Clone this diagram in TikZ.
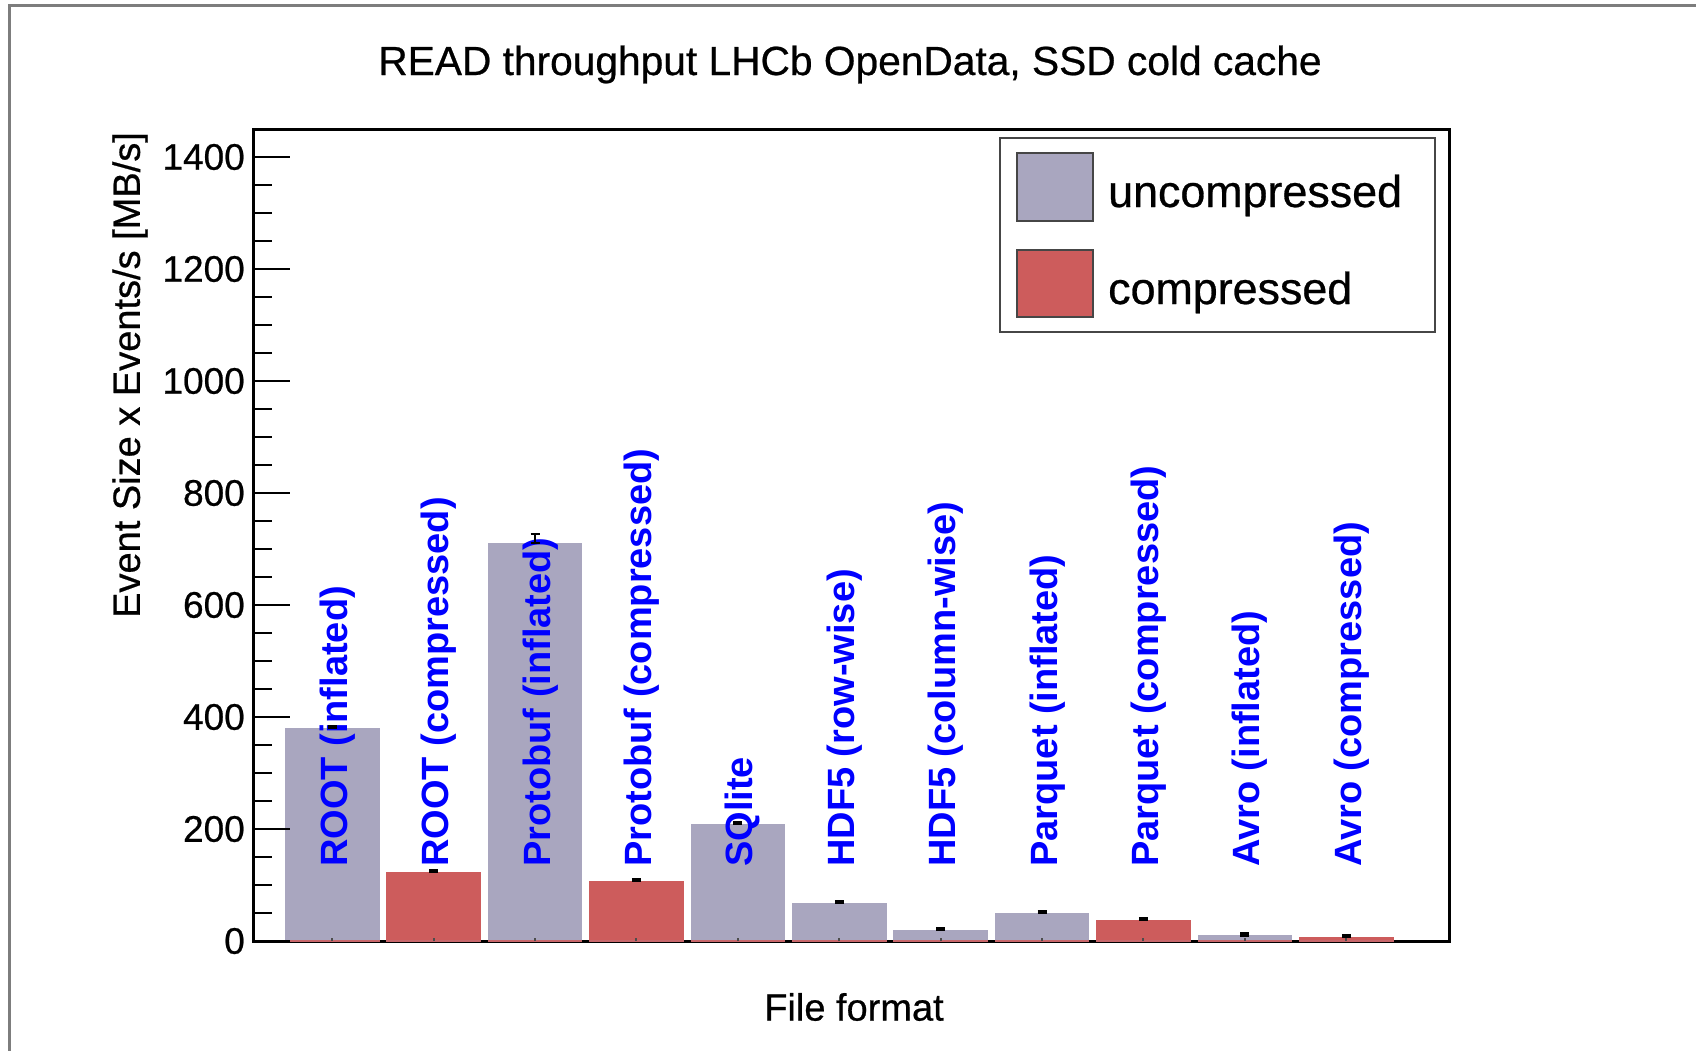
\documentclass[tikz,border=0pt]{standalone}
\usepackage{fontspec}
\setmainfont{Liberation Sans}
\newfontfamily\plotfont[FakeBold=0.6]{Liberation Sans}
\definecolor{uncomp}{RGB}{169,166,191}
\definecolor{comp}{RGB}{205,92,92}
\definecolor{lblue}{RGB}{0,0,255}
\definecolor{outerg}{RGB}{125,125,125}
\definecolor{legg}{RGB}{70,70,70}
\tikzset{
  plotframe/.style={line width=3pt, draw=black},
  outerframe/.style={line width=3pt, draw=outerg},
  legframe/.style={line width=2.8pt, draw=legg},
  swatch/.style={line width=2.5pt, draw=legg},
  ticks/.style={line width=2.5pt, draw=black},
  barbase/.style={line width=2pt, draw=comp!85!uncomp},
  errbar/.style={line width=2.2pt, draw=black},
  lbl/.style={rotate=90, text=lblue, font=\fontsize{38}{40}\selectfont\bfseries, inner sep=0pt, anchor=base west},
  ticklbl/.style={font=\plotfont\fontsize{37}{40}\selectfont, inner sep=0pt, anchor=east},
  axlbl/.style={font=\plotfont\fontsize{38}{40}\selectfont, inner sep=0pt},
  leglbl/.style={font=\plotfont\fontsize{44.8}{46}\selectfont, inner sep=0pt, anchor=base west}
}
\begin{document}
\begin{tikzpicture}[x=1pt,y=-1pt]
\useasboundingbox (0,0) rectangle (1696,1050);
\fill[white] (0,0) rectangle (1696,1050);
% outer frame (only top and left visible)
\draw[outerframe] (9,1052) -- (9,5) -- (1698,5);
% title
\node[font=\plotfont\fontsize{40.7}{42}\selectfont, inner sep=0pt, anchor=base] (title) at (850,75) {READ throughput LHCb OpenData, SSD cold cache};
% bars
\foreach \i/\v/\c in {0/380/uncomp,1/123/comp,2/711/uncomp,3/107/comp,4/209/uncomp,5/68/uncomp,6/20/uncomp,7/50/uncomp,8/38/comp,9/10/uncomp,10/7/comp}{
  \pgfmathsetmacro\xl{285+101.4*\i}
  \pgfmathsetmacro\xr{\xl+94.5}
  \pgfmathsetmacro\yt{941-0.56*\v}
  \fill[\c] (\xl,941) rectangle (\xr,\yt);
}
% plot frame
\draw[plotframe] (253,129) rectangle (1449,941);
% bar bottoms and small x ticks
\foreach \i in {0,...,10}{
  \pgfmathsetmacro\xl{285+101.4*\i}
  \pgfmathsetmacro\xr{\xl+94.5}
  \pgfmathsetmacro\xc{\xl+47.25}
  \draw[barbase] (\xl,941) -- (\xr,941);
  \draw[line width=2pt, draw=black!70] (\xc,941) -- (\xc,938);
}
% y ticks
\foreach \v in {0,50,...,1400}{
  \pgfmathsetmacro\yy{941-0.56*\v}
  \draw[ticks] (253,\yy) -- (272,\yy);
}
\foreach \v in {0,200,...,1400}{
  \pgfmathsetmacro\yy{941-0.56*\v}
  \draw[ticks] (253,\yy) -- (290,\yy);
  \node[ticklbl] (yt\v) at (245,\yy) {\v};
}
% labels
\foreach \i/\lab in {0/{ROOT (inflated)},1/{ROOT (compressed)},2/{Protobuf (inflated)},3/{Protobuf (compressed)},4/{SQlite},5/{HDF5 (row-wise)},6/{HDF5 (column-wise)},7/{Parquet (inflated)},8/{Parquet (compressed)},9/{Avro (inflated)},10/{Avro (compressed)}}{
  \pgfmathsetmacro\xb{285+101.4*\i+47.25+15}
  \node[lbl] (lab\i) at (\xb,867) {\lab};
}
% error bars (upper half visible above bars)
\foreach \i/\v/\e in {0/380/2,1/123/2,2/711/9,3/107/2,4/209/2,5/68/2,6/20/2,7/50/2,8/38/2,9/10/2,10/7/2}{
  \pgfmathsetmacro\xc{285+101.4*\i+47.25}
  \pgfmathsetmacro\yt{941-0.56*\v}
  \draw[errbar] (\xc,\yt-\e) -- (\xc,\yt);
  \draw[errbar] (\xc-4.5,\yt-\e) -- (\xc+4.5,\yt-\e);
  \draw[errbar] (\xc-4.5,\yt) -- (\xc+4.5,\yt);
}
% axis titles
\node[axlbl, rotate=90] (ylab) at (130,375) {Event Size x Events/s [MB/s]};
\node[axlbl] (xlab) at (854,1007) {File format};
% legend
\draw[legframe, fill=white] (1000,138) rectangle (1435,332);
\draw[swatch, fill=uncomp] (1017,153) rectangle (1093,221);
\draw[swatch, fill=comp] (1017,250) rectangle (1093,317);
\node[leglbl] (leg1) at (1108,207) {uncompressed};
\node[leglbl] (leg2) at (1108,304) {compressed};
\end{tikzpicture}
\end{document}
